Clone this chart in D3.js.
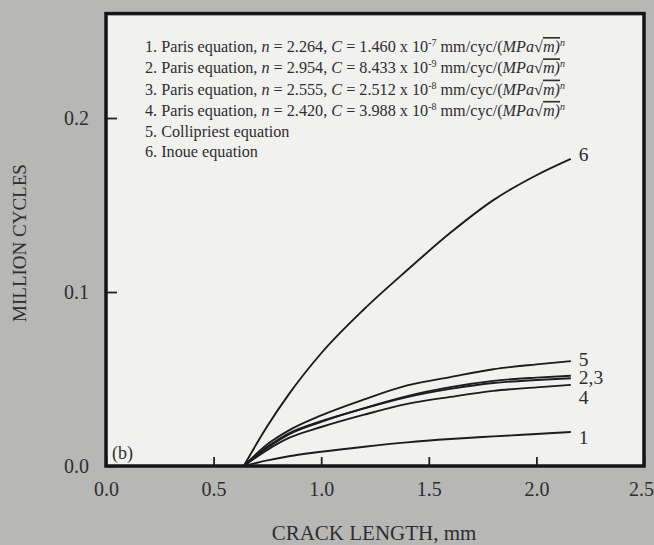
<!DOCTYPE html>
<html>
<head>
<meta charset="utf-8">
<script src="https://cdn.jsdelivr.net/npm/d3@7"></script>
<style>
  html, body { margin: 0; padding: 0; background: #b7b7b5; }
  svg { display: block; }
  text { font-family: "Liberation Serif", "Times New Roman", serif; fill: #2e2e2e; }
</style>
</head>
<body>
<svg id="chart" width="654" height="545"></svg>
<script>
// ---------- data ----------
const crackLength = [0.64, 0.75, 0.85, 1.0, 1.2, 1.4, 1.6, 1.8, 2.0, 2.16];
const cycles1 = [0, 0.0032, 0.0056, 0.0082, 0.0111, 0.0136, 0.0155, 0.0170, 0.0184, 0.0195];
const cycles2 = [0, 0.0105, 0.0182, 0.0254, 0.0333, 0.0402, 0.0453, 0.0489, 0.0508, 0.0519];
const cycles3 = [0, 0.0110, 0.0188, 0.0258, 0.0331, 0.0396, 0.0443, 0.0477, 0.0494, 0.0504];
const cycles4 = [0, 0.0093, 0.0161, 0.0224, 0.0295, 0.0357, 0.0397, 0.0432, 0.0452, 0.0466];
const cycles5 = [0, 0.0125, 0.0205, 0.0291, 0.0383, 0.0463, 0.0511, 0.0556, 0.0584, 0.0603];
const cycles6 = [0, 0.0230, 0.0413, 0.0648, 0.0902, 0.1126, 0.1340, 0.1528, 0.1671, 0.1765];

const xTicks = [0, 0.5, 1.0, 1.5, 2.0, 2.5];
const yTicks = [0, 0.1, 0.2];
const xTitle = "CRACK LENGTH, mm";
const yTitle = "MILLION CYCLES";
const panelTag = "(b)";

// curve end labels
const endLabelText = ["6", "5", "2,3", "4", "1"];
const endLabelSeries = [[cycles6], [cycles5], [cycles2, cycles3], [cycles4], [cycles1]];

// legend entries
const parisN = ["2.264", "2.954", "2.555", "2.420"];
const parisC = ["1.460", "8.433", "2.512", "3.988"];
const parisExp = ["-7", "-9", "-8", "-8"];
const otherLegend = ["5. Collipriest equation", "6. Inoue equation"];

// ---------- drawing ----------
const svg = d3.select("#chart");
const x = d3.scaleLinear().domain([0, 2.5]).range([106, 644]);
const y = d3.scaleLinear().domain([0, 0.26]).range([466, 13.6]);

// plot area
svg.append("rect")
  .attr("x", x(0)).attr("y", y(0.26))
  .attr("width", x(2.5) - x(0)).attr("height", y(0) - y(0.26))
  .attr("fill", "#f1f1ef");

// axes
const xAxis = svg.append("g")
  .attr("transform", `translate(0,${y(0)})`)
  .call(d3.axisBottom(x).tickValues(xTicks).tickFormat(d3.format(".1f"))
        .tickSizeInner(-9).tickSizeOuter(0).tickPadding(16));
const yAxis = svg.append("g")
  .attr("transform", `translate(${x(0)},0)`)
  .call(d3.axisLeft(y).tickValues(yTicks).tickFormat(d3.format(".1f"))
        .tickSizeInner(-11).tickSizeOuter(0).tickPadding(17));
[xAxis, yAxis].forEach(g => {
  g.select(".domain").remove();
  g.selectAll(".tick line").attr("stroke", "#222").attr("stroke-width", 1.8);
  g.selectAll(".tick text").attr("font-size", 20).attr("fill", "#333")
    .style("font-family", "'Liberation Serif', serif");
});
// keep the last x label inside the picture, as in the reference
xAxis.selectAll(".tick text").filter(d => d === 2.5).attr("dx", -3);

// frame
svg.append("rect")
  .attr("x", x(0)).attr("y", y(0.26))
  .attr("width", x(2.5) - x(0)).attr("height", y(0) - y(0.26))
  .attr("fill", "none").attr("stroke", "#151515").attr("stroke-width", 3.5);

// curves
const line = d3.line()
  .x((d, i) => x(crackLength[i]))
  .y(d => y(d))
  .curve(d3.curveMonotoneX);
[cycles1, cycles2, cycles3, cycles4, cycles5, cycles6].forEach(s => {
  svg.append("path").datum(s)
    .attr("d", line)
    .attr("fill", "none").attr("stroke", "#1c1c1c").attr("stroke-width", 1.9);
});

// end labels (small vertical nudges so that they do not collide)
const nudge = { "6": -4, "5": -2, "2,3": 1, "4": 13, "1": 5 };
const lastX = crackLength[crackLength.length - 1];
endLabelText.forEach((t, i) => {
  const ends = endLabelSeries[i].map(s => s[s.length - 1]);
  const v = d3.mean(ends);
  svg.append("text")
    .attr("x", x(lastX) + 8)
    .attr("y", y(v) + nudge[t] + 6.5)
    .attr("font-size", 19.5)
    .text(t);
});

// panel tag
svg.append("text").attr("x", x(0) + 6).attr("y", y(0) - 7)
  .attr("font-size", 18).text(panelTag);

// axis titles
svg.append("text")
  .attr("x", 374).attr("y", 540)
  .attr("text-anchor", "middle").attr("font-size", 21)
  .text(xTitle);
svg.append("text")
  .attr("transform", `translate(26,243) rotate(-90)`)
  .attr("text-anchor", "middle").attr("font-size", 19)
  .text(yTitle);

// legend
const legend = svg.append("g").attr("transform", "translate(145,52)");
const lh = 21.3;
const fs = 16.2;
parisN.forEach((n, i) => {
  const t = legend.append("text").attr("y", i * lh).attr("font-size", fs);
  t.append("tspan").text(`${i + 1}. Paris equation, `);
  t.append("tspan").attr("font-style", "italic").text("n");
  t.append("tspan").text(` = ${n}, `);
  t.append("tspan").attr("font-style", "italic").text("C");
  t.append("tspan").text(` = ${parisC[i]} x 10`);
  t.append("tspan").attr("font-size", 10).attr("dy", -6).text(parisExp[i]);
  t.append("tspan").attr("dy", 6).text(" mm/cyc/(");
  t.append("tspan").attr("font-style", "italic").text("MPa");
  t.append("tspan").text("\u221A");
  t.append("tspan").attr("font-style", "italic").attr("text-decoration", "overline").text("m)");
  t.append("tspan").attr("font-style", "italic").attr("font-size", 10).attr("dy", -6).text("n");
});
otherLegend.forEach((s, j) => {
  legend.append("text").attr("y", (parisN.length + j) * lh - 1.5 * j).attr("font-size", fs).text(s);
});
</script>
</body>
</html>
